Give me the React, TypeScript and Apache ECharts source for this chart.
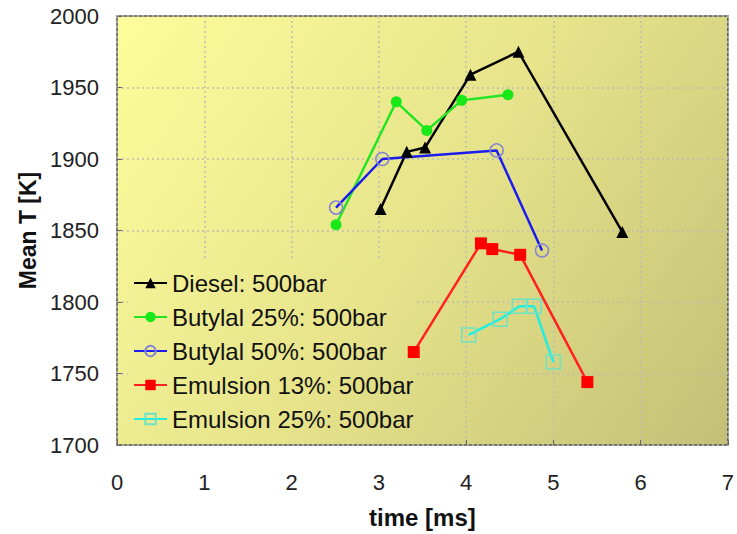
import React, { useEffect, useRef } from "react";
import * as echarts from "echarts";

const seriesNames = [
  "Diesel: 500bar",
  "Butylal 25%: 500bar",
  "Butylal 50%: 500bar",
  "Emulsion 13%: 500bar",
  "Emulsion 25%: 500bar",
];

const dieselT = [3.02, 3.32, 3.53, 4.05, 4.6, 5.79];
const dieselK = [1865, 1905, 1908, 1959, 1975, 1849];

const butylal25T = [2.51, 3.2, 3.55, 3.95, 4.48];
const butylal25K = [1854, 1940, 1920, 1941, 1945];

const butylal50T = [2.51, 3.04, 4.35, 4.87];
const butylal50K = [1866, 1900, 1906, 1836];

const emulsion13T = [3.4, 4.17, 4.3, 4.62, 5.39];
const emulsion13K = [1765, 1841, 1837, 1833, 1744];

const emulsion25T = [4.03, 4.39, 4.61, 4.78, 5.0];
const emulsion25K = [1777, 1788, 1797, 1797, 1758];

const xTicks = [0, 1, 2, 3, 4, 5, 6, 7];
const yTicks = [1700, 1750, 1800, 1850, 1900, 1950, 2000];

const zip = (a: number[], b: number[]) => a.map((v, i) => [v, b[i]]);

export default function App() {
  const ref = useRef<HTMLDivElement>(null);
  useEffect(() => {
    if (!ref.current) return;
    const chart = echarts.init(ref.current, null, { renderer: "svg" });
    const L = 117, T = 16, R = 731, B = 448;
    const legLeft = 128, legTop = 260;
    const pad = [11, 0, 13, 5];
    const stops = [
      { offset: 0, color: "#FDFD9C" },
      { offset: 0.5, color: "#E6E38B" },
      { offset: 1, color: "#C3BF76" },
    ];
    const grad = (dx: number, dy: number) =>
      new echarts.graphic.LinearGradient(L - dx, T - dy, R - dx, B - dy, stops, true);
    const font = "'Liberation Sans', Arial, sans-serif";
    const mk = (
      name: string,
      data: number[][],
      lineColor: string,
      symbol: string,
      symbolSize: number,
      item: any
    ) => ({
      name,
      type: "line",
      data,
      symbol,
      symbolSize,
      lineStyle: { color: lineColor, width: 2.5 },
      itemStyle: item,
      z: 20,
    });
    chart.setOption({
      animation: false,
      textStyle: { fontFamily: font },
      grid: {
        left: L,
        top: T,
        width: R - L,
        height: B - T,
        show: true,
        backgroundColor: grad(0, 0),
        borderColor: "#505050",
        borderWidth: 1.5,
        containLabel: false,
      },
      xAxis: {
        type: "value",
        min: xTicks[0],
        max: xTicks[xTicks.length - 1],
        interval: 1,
        name: "time [ms]",
        nameLocation: "middle",
        nameGap: 60,
        nameTextStyle: { fontSize: 24, fontWeight: "bold", color: "#111", fontFamily: font },
        axisLine: { show: false },
        axisTick: { show: true, inside: true, length: 5, lineStyle: { color: "#666" } },
        axisLabel: { fontSize: 22, color: "#222", margin: 26, fontFamily: font },
        splitLine: {
          show: true,
          lineStyle: { color: "#BDBDB0", type: [2, 3], width: 1.5 },
        },
      },
      yAxis: {
        type: "value",
        min: yTicks[0],
        max: yTicks[yTicks.length - 1],
        interval: 50,
        name: "Mean T [K]",
        nameLocation: "middle",
        nameGap: 74,
        nameTextStyle: { fontSize: 23, fontWeight: "bold", color: "#111", fontFamily: font },
        axisLine: { show: false },
        axisTick: { show: true, inside: true, length: 5, lineStyle: { color: "#666" } },
        axisLabel: {
          fontSize: 22,
          color: "#222",
          margin: 18,
          fontFamily: font,
          formatter: (v: number) => String(v),
        },
        splitLine: {
          show: true,
          lineStyle: { color: "#BDBDB0", type: [2, 3], width: 1.5 },
        },
      },
      legend: {
        orient: "vertical",
        left: legLeft,
        top: legTop,
        padding: pad,
        itemGap: 10,
        itemWidth: 33,
        itemHeight: 13,
        backgroundColor: grad(legLeft + pad[3], legTop + pad[0]),
        textStyle: { fontSize: 24, color: "#111", fontFamily: font },
        data: seriesNames,
        z: 10,
      },
      series: [
        mk(seriesNames[0], zip(dieselT, dieselK), "#000000", "triangle", 12, { color: "#000" }),
        mk(seriesNames[1], zip(butylal25T, butylal25K), "#22E522", "circle", 11, { color: "#18E818" }),
        mk(seriesNames[2], zip(butylal50T, butylal50K), "#1C1CF0", "circle", 13, {
          color: "rgba(0,0,0,0)",
          borderColor: "#8484D0",
          borderWidth: 1.5,
        }),
        mk(seriesNames[3], zip(emulsion13T, emulsion13K), "#FF2020", "rect", 12, { color: "#FF0000" }),
        mk(seriesNames[4], zip(emulsion25T, emulsion25K), "#22EEE0", "rect", 14, {
          color: "rgba(0,0,0,0)",
          borderColor: "#6EE2C4",
          borderWidth: 1.5,
        }),
      ],
    });
    return () => chart.dispose();
  }, []);
  return <div ref={ref} style={{ width: 737, height: 534, position: "absolute", left: 0, top: 0 }} />;
}
